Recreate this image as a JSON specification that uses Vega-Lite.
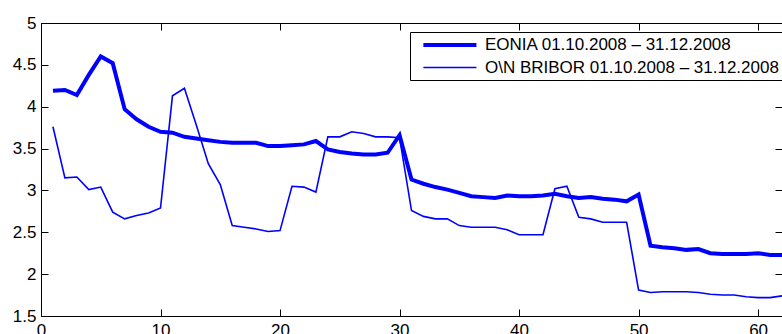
{
  "$schema": "https://vega.github.io/schema/vega-lite/v6.json",
  "width": 741,
  "height": 293,
  "autosize": "none",
  "padding": {"left": 41, "top": 23, "right": 0, "bottom": 18},
  "background": "white",
  "config": {
    "view": {"stroke": null},
    "axis": {"labelFont": "Liberation Sans", "labelFontSize": 17, "labelColor": "black", "domainColor": "black", "tickColor": "black", "grid": false, "title": null, "domainWidth": 1, "tickWidth": 1}
  },
  "data": {"values": [
    {"x":1,"s":"EONIA 01.10.2008 – 31.12.2008","v":4.19},
    {"x":2,"s":"EONIA 01.10.2008 – 31.12.2008","v":4.20},
    {"x":3,"s":"EONIA 01.10.2008 – 31.12.2008","v":4.14},
    {"x":4,"s":"EONIA 01.10.2008 – 31.12.2008","v":4.38},
    {"x":5,"s":"EONIA 01.10.2008 – 31.12.2008","v":4.60},
    {"x":6,"s":"EONIA 01.10.2008 – 31.12.2008","v":4.52},
    {"x":7,"s":"EONIA 01.10.2008 – 31.12.2008","v":3.97},
    {"x":8,"s":"EONIA 01.10.2008 – 31.12.2008","v":3.85},
    {"x":9,"s":"EONIA 01.10.2008 – 31.12.2008","v":3.76},
    {"x":10,"s":"EONIA 01.10.2008 – 31.12.2008","v":3.70},
    {"x":11,"s":"EONIA 01.10.2008 – 31.12.2008","v":3.69},
    {"x":12,"s":"EONIA 01.10.2008 – 31.12.2008","v":3.64},
    {"x":13,"s":"EONIA 01.10.2008 – 31.12.2008","v":3.62},
    {"x":14,"s":"EONIA 01.10.2008 – 31.12.2008","v":3.60},
    {"x":15,"s":"EONIA 01.10.2008 – 31.12.2008","v":3.58},
    {"x":16,"s":"EONIA 01.10.2008 – 31.12.2008","v":3.57},
    {"x":17,"s":"EONIA 01.10.2008 – 31.12.2008","v":3.57},
    {"x":18,"s":"EONIA 01.10.2008 – 31.12.2008","v":3.57},
    {"x":19,"s":"EONIA 01.10.2008 – 31.12.2008","v":3.53},
    {"x":20,"s":"EONIA 01.10.2008 – 31.12.2008","v":3.53},
    {"x":21,"s":"EONIA 01.10.2008 – 31.12.2008","v":3.54},
    {"x":22,"s":"EONIA 01.10.2008 – 31.12.2008","v":3.55},
    {"x":23,"s":"EONIA 01.10.2008 – 31.12.2008","v":3.59},
    {"x":24,"s":"EONIA 01.10.2008 – 31.12.2008","v":3.49},
    {"x":25,"s":"EONIA 01.10.2008 – 31.12.2008","v":3.46},
    {"x":26,"s":"EONIA 01.10.2008 – 31.12.2008","v":3.44},
    {"x":27,"s":"EONIA 01.10.2008 – 31.12.2008","v":3.43},
    {"x":28,"s":"EONIA 01.10.2008 – 31.12.2008","v":3.43},
    {"x":29,"s":"EONIA 01.10.2008 – 31.12.2008","v":3.45},
    {"x":30,"s":"EONIA 01.10.2008 – 31.12.2008","v":3.66},
    {"x":31,"s":"EONIA 01.10.2008 – 31.12.2008","v":3.13},
    {"x":32,"s":"EONIA 01.10.2008 – 31.12.2008","v":3.08},
    {"x":33,"s":"EONIA 01.10.2008 – 31.12.2008","v":3.04},
    {"x":34,"s":"EONIA 01.10.2008 – 31.12.2008","v":3.01},
    {"x":35,"s":"EONIA 01.10.2008 – 31.12.2008","v":2.97},
    {"x":36,"s":"EONIA 01.10.2008 – 31.12.2008","v":2.93},
    {"x":37,"s":"EONIA 01.10.2008 – 31.12.2008","v":2.92},
    {"x":38,"s":"EONIA 01.10.2008 – 31.12.2008","v":2.91},
    {"x":39,"s":"EONIA 01.10.2008 – 31.12.2008","v":2.94},
    {"x":40,"s":"EONIA 01.10.2008 – 31.12.2008","v":2.93},
    {"x":41,"s":"EONIA 01.10.2008 – 31.12.2008","v":2.93},
    {"x":42,"s":"EONIA 01.10.2008 – 31.12.2008","v":2.94},
    {"x":43,"s":"EONIA 01.10.2008 – 31.12.2008","v":2.96},
    {"x":44,"s":"EONIA 01.10.2008 – 31.12.2008","v":2.93},
    {"x":45,"s":"EONIA 01.10.2008 – 31.12.2008","v":2.91},
    {"x":46,"s":"EONIA 01.10.2008 – 31.12.2008","v":2.92},
    {"x":47,"s":"EONIA 01.10.2008 – 31.12.2008","v":2.90},
    {"x":48,"s":"EONIA 01.10.2008 – 31.12.2008","v":2.89},
    {"x":49,"s":"EONIA 01.10.2008 – 31.12.2008","v":2.87},
    {"x":50,"s":"EONIA 01.10.2008 – 31.12.2008","v":2.95},
    {"x":51,"s":"EONIA 01.10.2008 – 31.12.2008","v":2.34},
    {"x":52,"s":"EONIA 01.10.2008 – 31.12.2008","v":2.32},
    {"x":53,"s":"EONIA 01.10.2008 – 31.12.2008","v":2.31},
    {"x":54,"s":"EONIA 01.10.2008 – 31.12.2008","v":2.29},
    {"x":55,"s":"EONIA 01.10.2008 – 31.12.2008","v":2.30},
    {"x":56,"s":"EONIA 01.10.2008 – 31.12.2008","v":2.25},
    {"x":57,"s":"EONIA 01.10.2008 – 31.12.2008","v":2.24},
    {"x":58,"s":"EONIA 01.10.2008 – 31.12.2008","v":2.24},
    {"x":59,"s":"EONIA 01.10.2008 – 31.12.2008","v":2.24},
    {"x":60,"s":"EONIA 01.10.2008 – 31.12.2008","v":2.25},
    {"x":61,"s":"EONIA 01.10.2008 – 31.12.2008","v":2.23},
    {"x":62,"s":"EONIA 01.10.2008 – 31.12.2008","v":2.23},
    {"x":1,"s":"O\\N BRIBOR 01.10.2008 – 31.12.2008","v":3.76},
    {"x":2,"s":"O\\N BRIBOR 01.10.2008 – 31.12.2008","v":3.15},
    {"x":3,"s":"O\\N BRIBOR 01.10.2008 – 31.12.2008","v":3.16},
    {"x":4,"s":"O\\N BRIBOR 01.10.2008 – 31.12.2008","v":3.01},
    {"x":5,"s":"O\\N BRIBOR 01.10.2008 – 31.12.2008","v":3.04},
    {"x":6,"s":"O\\N BRIBOR 01.10.2008 – 31.12.2008","v":2.74},
    {"x":7,"s":"O\\N BRIBOR 01.10.2008 – 31.12.2008","v":2.66},
    {"x":8,"s":"O\\N BRIBOR 01.10.2008 – 31.12.2008","v":2.70},
    {"x":9,"s":"O\\N BRIBOR 01.10.2008 – 31.12.2008","v":2.73},
    {"x":10,"s":"O\\N BRIBOR 01.10.2008 – 31.12.2008","v":2.79},
    {"x":11,"s":"O\\N BRIBOR 01.10.2008 – 31.12.2008","v":4.13},
    {"x":12,"s":"O\\N BRIBOR 01.10.2008 – 31.12.2008","v":4.22},
    {"x":13,"s":"O\\N BRIBOR 01.10.2008 – 31.12.2008","v":3.78},
    {"x":14,"s":"O\\N BRIBOR 01.10.2008 – 31.12.2008","v":3.32},
    {"x":15,"s":"O\\N BRIBOR 01.10.2008 – 31.12.2008","v":3.07},
    {"x":16,"s":"O\\N BRIBOR 01.10.2008 – 31.12.2008","v":2.58},
    {"x":17,"s":"O\\N BRIBOR 01.10.2008 – 31.12.2008","v":2.56},
    {"x":18,"s":"O\\N BRIBOR 01.10.2008 – 31.12.2008","v":2.54},
    {"x":19,"s":"O\\N BRIBOR 01.10.2008 – 31.12.2008","v":2.51},
    {"x":20,"s":"O\\N BRIBOR 01.10.2008 – 31.12.2008","v":2.52},
    {"x":21,"s":"O\\N BRIBOR 01.10.2008 – 31.12.2008","v":3.05},
    {"x":22,"s":"O\\N BRIBOR 01.10.2008 – 31.12.2008","v":3.04},
    {"x":23,"s":"O\\N BRIBOR 01.10.2008 – 31.12.2008","v":2.98},
    {"x":24,"s":"O\\N BRIBOR 01.10.2008 – 31.12.2008","v":3.64},
    {"x":25,"s":"O\\N BRIBOR 01.10.2008 – 31.12.2008","v":3.64},
    {"x":26,"s":"O\\N BRIBOR 01.10.2008 – 31.12.2008","v":3.70},
    {"x":27,"s":"O\\N BRIBOR 01.10.2008 – 31.12.2008","v":3.68},
    {"x":28,"s":"O\\N BRIBOR 01.10.2008 – 31.12.2008","v":3.64},
    {"x":29,"s":"O\\N BRIBOR 01.10.2008 – 31.12.2008","v":3.64},
    {"x":30,"s":"O\\N BRIBOR 01.10.2008 – 31.12.2008","v":3.63},
    {"x":31,"s":"O\\N BRIBOR 01.10.2008 – 31.12.2008","v":2.76},
    {"x":32,"s":"O\\N BRIBOR 01.10.2008 – 31.12.2008","v":2.69},
    {"x":33,"s":"O\\N BRIBOR 01.10.2008 – 31.12.2008","v":2.66},
    {"x":34,"s":"O\\N BRIBOR 01.10.2008 – 31.12.2008","v":2.66},
    {"x":35,"s":"O\\N BRIBOR 01.10.2008 – 31.12.2008","v":2.58},
    {"x":36,"s":"O\\N BRIBOR 01.10.2008 – 31.12.2008","v":2.56},
    {"x":37,"s":"O\\N BRIBOR 01.10.2008 – 31.12.2008","v":2.56},
    {"x":38,"s":"O\\N BRIBOR 01.10.2008 – 31.12.2008","v":2.56},
    {"x":39,"s":"O\\N BRIBOR 01.10.2008 – 31.12.2008","v":2.53},
    {"x":40,"s":"O\\N BRIBOR 01.10.2008 – 31.12.2008","v":2.47},
    {"x":41,"s":"O\\N BRIBOR 01.10.2008 – 31.12.2008","v":2.47},
    {"x":42,"s":"O\\N BRIBOR 01.10.2008 – 31.12.2008","v":2.47},
    {"x":43,"s":"O\\N BRIBOR 01.10.2008 – 31.12.2008","v":3.02},
    {"x":44,"s":"O\\N BRIBOR 01.10.2008 – 31.12.2008","v":3.05},
    {"x":45,"s":"O\\N BRIBOR 01.10.2008 – 31.12.2008","v":2.68},
    {"x":46,"s":"O\\N BRIBOR 01.10.2008 – 31.12.2008","v":2.66},
    {"x":47,"s":"O\\N BRIBOR 01.10.2008 – 31.12.2008","v":2.62},
    {"x":48,"s":"O\\N BRIBOR 01.10.2008 – 31.12.2008","v":2.62},
    {"x":49,"s":"O\\N BRIBOR 01.10.2008 – 31.12.2008","v":2.62},
    {"x":50,"s":"O\\N BRIBOR 01.10.2008 – 31.12.2008","v":1.81},
    {"x":51,"s":"O\\N BRIBOR 01.10.2008 – 31.12.2008","v":1.78},
    {"x":52,"s":"O\\N BRIBOR 01.10.2008 – 31.12.2008","v":1.79},
    {"x":53,"s":"O\\N BRIBOR 01.10.2008 – 31.12.2008","v":1.79},
    {"x":54,"s":"O\\N BRIBOR 01.10.2008 – 31.12.2008","v":1.79},
    {"x":55,"s":"O\\N BRIBOR 01.10.2008 – 31.12.2008","v":1.78},
    {"x":56,"s":"O\\N BRIBOR 01.10.2008 – 31.12.2008","v":1.76},
    {"x":57,"s":"O\\N BRIBOR 01.10.2008 – 31.12.2008","v":1.75},
    {"x":58,"s":"O\\N BRIBOR 01.10.2008 – 31.12.2008","v":1.75},
    {"x":59,"s":"O\\N BRIBOR 01.10.2008 – 31.12.2008","v":1.73},
    {"x":60,"s":"O\\N BRIBOR 01.10.2008 – 31.12.2008","v":1.72},
    {"x":61,"s":"O\\N BRIBOR 01.10.2008 – 31.12.2008","v":1.72},
    {"x":62,"s":"O\\N BRIBOR 01.10.2008 – 31.12.2008","v":1.74}
  ]},
  "layer": [
    {
      "mark": {"type": "line", "color": "#0000ff", "clip": true},
      "encoding": {
        "x": {"field": "x", "type": "quantitative", "scale": {"domain": [0, 62], "nice": false, "zero": false},
              "axis": {"orient": "bottom", "values": [0, 10, 20, 30, 40, 50, 60], "tickSize": -7, "labelPadding": 13, "labelFlush": false}},
        "y": {"field": "v", "type": "quantitative", "scale": {"domain": [1.5, 5], "nice": false, "zero": false},
              "axis": {"orient": "left", "values": [1.5, 2, 2.5, 3, 3.5, 4, 4.5, 5], "format": "~g", "tickSize": -7, "labelPadding": 12, "labelFlush": false}},
        "strokeWidth": {"field": "s", "type": "nominal",
          "scale": {"domain": ["EONIA 01.10.2008 – 31.12.2008", "O\\N BRIBOR 01.10.2008 – 31.12.2008"], "range": [4, 1.6]},
          "legend": {"orient": "none", "legendX": 369, "legendY": 9, "title": null, "symbolType": "M-1,0H7", "symbolStrokeColor": "#0000ff", "symbolFillColor": "transparent", "symbolSize": 176,
                     "labelFont": "Liberation Sans", "labelFontSize": 17, "labelColor": "black", "labelLimit": 500, "strokeColor": "black", "fillColor": "white",
                     "padding": 4, "symbolOffset": 7, "labelOffset": 46, "rowPadding": 5}}
      }
    },
    {
      "mark": {"type": "line", "opacity": 0},
      "encoding": {
        "x": {"field": "x", "type": "quantitative", "scale": {"domain": [0, 62], "nice": false, "zero": false},
              "axis": {"orient": "top", "values": [0, 10, 20, 30, 40, 50, 60], "tickSize": -7, "labels": false}},
        "y": {"field": "v", "type": "quantitative", "scale": {"domain": [1.5, 5], "nice": false, "zero": false},
              "axis": {"orient": "right", "values": [1.5, 2, 2.5, 3, 3.5, 4, 4.5, 5], "tickSize": -7, "labels": false}},
        "detail": {"field": "s"}
      }
    }
  ],
  "resolve": {"axis": {"x": "independent", "y": "independent"}}
}
